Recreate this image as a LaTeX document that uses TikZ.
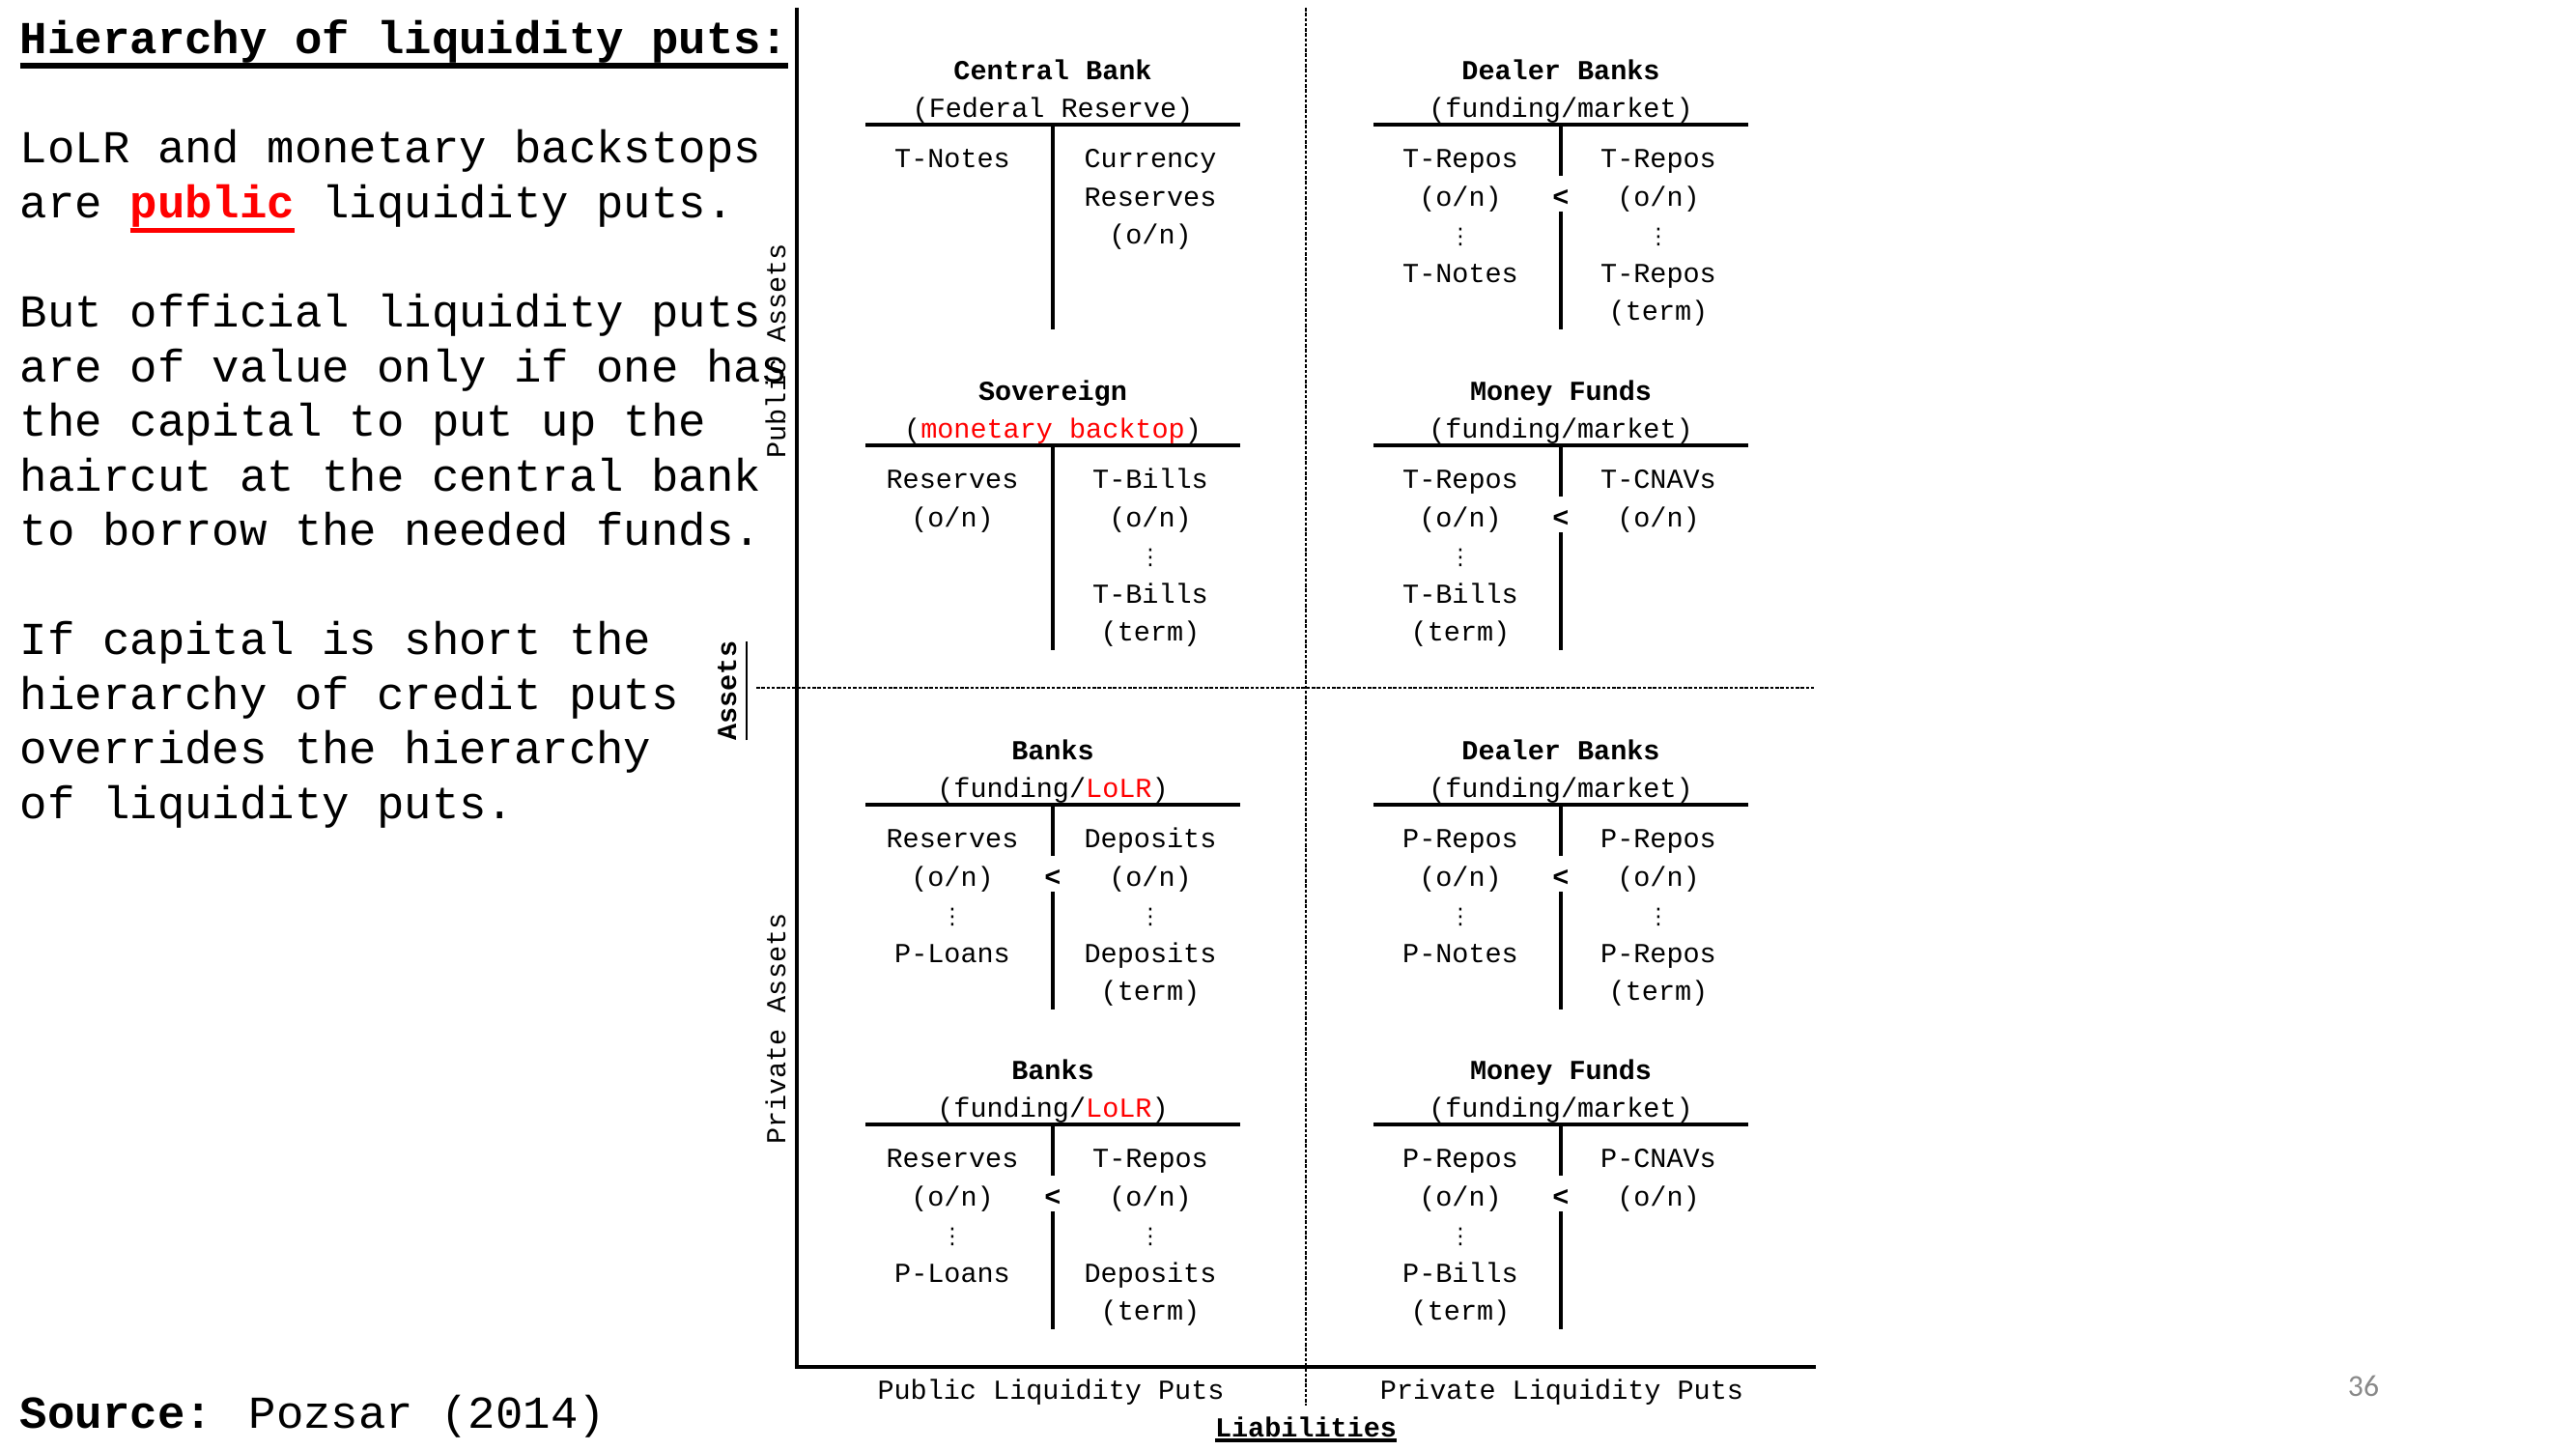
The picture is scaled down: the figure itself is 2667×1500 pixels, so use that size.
\documentclass[tikz,border=0pt]{standalone}
\usepackage{fontspec}
\usepackage{xcolor}
\usepackage{tikz}
\setmainfont{Liberation Mono}
\newfontfamily\symfont{DejaVu Sans}
\newfontfamily\slidefont{Carlito}
\definecolor{pagegray}{RGB}{137,137,137}
\newcommand{\vdts}{{\symfont\fontsize{6.5pt}{11.24pt}\selectfont ⋮}}
\newcommand{\thickul}[3]{\setbox0=\hbox{#3}\rlap{\rule[\dimexpr-#2-#1/2\relax]{\wd0}{#1}}\box0}

\begin{document}
\begin{tikzpicture}[x=0.01cm,y=0.01cm,yscale=-1,xscale=1,
  txt/.style={inner sep=0pt,outer sep=0pt,yshift=-0.9pt,font=\fontsize{8.1pt}{11.24pt}\selectfont},
  head/.style={txt,anchor=base,font=\fontsize{8.1pt}{11.24pt}\selectfont\bfseries},
  sub/.style={txt,anchor=base},
  col/.style={txt,anchor=north,align=center},
  para/.style={inner sep=0pt,outer sep=0pt,yshift=-1.1pt,align=left,font=\fontsize{13.46pt}{16.07pt}\selectfont},
  tline/.style={line width=1.1pt},
  stem/.style={line width=1pt},
  gridline/.style={line width=0.5pt,dash pattern=on 1pt off 0.5pt}]
\useasboundingbox (0,0) rectangle (2667,1500);

%Axes
\draw [line width=1.1pt] (825,8) -- (825,1415) -- (1880,1415) ;
\draw [gridline] (1352,8) -- (1352,1455) ;
\draw [gridline] (783,712) -- (1878,712) ;

% Text Node
\draw (21,12.5) node [para,anchor=north west] (intro) {\strut\thickul{1.7pt}{3.4pt}{\textbf{Hierarchy of liquidity puts:}}\\[16.07pt]
LoLR and monetary backstops\\
are \textcolor{red}{\thickul{1.4pt}{3.7pt}{\textbf{public}}} liquidity puts.\\[16.07pt]
But official liquidity puts\\
are of value only if one has\\
the capital to put up the\\
haircut at the central bank\\
to borrow the needed funds.\\[16.07pt]
If capital is short the\\
hierarchy of credit puts\\
overrides the hierarchy\\
of liquidity puts.};
% Text Node
\draw (21,1475) node [para,anchor=base west] (source) {\textbf{Source:} Pozsar (2014)};

% Text Node
\draw (813,360) node [txt,anchor=base,rotate=90] (pubassets) {Public Assets};
\draw (813,1062) node [txt,anchor=base,rotate=90] (privassets) {Private Assets};
\draw (762,712) node [head,rotate=90] (assets) {\thickul{0.5pt}{3.1pt}{Assets}};
\draw (1088,1445) node [sub] (pubputs) {Public Liquidity Puts};
\draw (1617,1445) node [sub] (privputs) {Private Liquidity Puts};
\draw (1352,1484) node [head] (liab) {\thickul{1.1pt}{1.2pt}{Liabilities}};

%Central Bank
\draw [tline] (896,129) -- (1284,129) ;
\draw [stem] (1090,129) -- (1090,341) ;
\draw (1090,79) node [head] (cbHead) {Central Bank};
\draw (1090,118) node [sub] (cbSub) {(Federal Reserve)};
\draw (986,143) node [col] (cbL) {\strut T-Notes};
\draw (1191,143) node [col] (cbR) {\strut Currency\\Reserves\\(o/n)};

%Sovereign
\draw [tline] (896,461) -- (1284,461) ;
\draw [stem] (1090,461) -- (1090,673) ;
\draw (1090,411) node [head] (svHead) {Sovereign};
\draw (1090,450) node [sub] (svSub) {(\textcolor{red}{monetary backtop})};
\draw (986,475) node [col] (svL) {\strut Reserves\\(o/n)};
\draw (1191,475) node [col] (svR) {\strut T-Bills\\(o/n)\\\vdts\\T-Bills\\(term)};

%Banks (upper)
\draw [tline] (896,833) -- (1284,833) ;
\draw [stem] (1090,833) -- (1090,886) ;
\draw [stem] (1090,923) -- (1090,1045) ;
\draw (1090,783) node [head] (bkHead) {Banks};
\draw (1090,822) node [sub] (bkSub) {(funding/\textcolor{red}{LoLR})};
\draw (986,847) node [col] (bkL) {\strut Reserves\\(o/n)\\\vdts\\P-Loans};
\draw (1191,847) node [col] (bkR) {\strut Deposits\\(o/n)\\\vdts\\Deposits\\(term)};
\draw (1090,914) node [head] (bkLt) {<};

%Banks (lower)
\draw [tline] (896,1164) -- (1284,1164) ;
\draw [stem] (1090,1164) -- (1090,1217) ;
\draw [stem] (1090,1254) -- (1090,1376) ;
\draw (1090,1114) node [head] (bbHead) {Banks};
\draw (1090,1153) node [sub] (bbSub) {(funding/\textcolor{red}{LoLR})};
\draw (986,1178) node [col] (bbL) {\strut Reserves\\(o/n)\\\vdts\\P-Loans};
\draw (1191,1178) node [col] (bbR) {\strut T-Repos\\(o/n)\\\vdts\\Deposits\\(term)};
\draw (1090,1245) node [head] (bbLt) {<};

%Dealer Banks (upper)
\draw [tline] (1422,129) -- (1810,129) ;
\draw [stem] (1616,129) -- (1616,182) ;
\draw [stem] (1616,219) -- (1616,341) ;
\draw (1616,79) node [head] (dbHead) {Dealer Banks};
\draw (1616,118) node [sub] (dbSub) {(funding/market)};
\draw (1512,143) node [col] (dbL) {\strut T-Repos\\(o/n)\\\vdts\\T-Notes};
\draw (1717,143) node [col] (dbR) {\strut T-Repos\\(o/n)\\\vdts\\T-Repos\\(term)};
\draw (1616,210) node [head] (dbLt) {<};

%Money Funds (upper)
\draw [tline] (1422,461) -- (1810,461) ;
\draw [stem] (1616,461) -- (1616,514) ;
\draw [stem] (1616,551) -- (1616,673) ;
\draw (1616,411) node [head] (mfHead) {Money Funds};
\draw (1616,450) node [sub] (mfSub) {(funding/market)};
\draw (1512,475) node [col] (mfL) {\strut T-Repos\\(o/n)\\\vdts\\T-Bills\\(term)};
\draw (1717,475) node [col] (mfR) {\strut T-CNAVs\\(o/n)};
\draw (1616,542) node [head] (mfLt) {<};

%Dealer Banks (lower)
\draw [tline] (1422,833) -- (1810,833) ;
\draw [stem] (1616,833) -- (1616,886) ;
\draw [stem] (1616,923) -- (1616,1045) ;
\draw (1616,783) node [head] (pdHead) {Dealer Banks};
\draw (1616,822) node [sub] (pdSub) {(funding/market)};
\draw (1512,847) node [col] (pdL) {\strut P-Repos\\(o/n)\\\vdts\\P-Notes};
\draw (1717,847) node [col] (pdR) {\strut P-Repos\\(o/n)\\\vdts\\P-Repos\\(term)};
\draw (1616,914) node [head] (pdLt) {<};

%Money Funds (lower)
\draw [tline] (1422,1164) -- (1810,1164) ;
\draw [stem] (1616,1164) -- (1616,1217) ;
\draw [stem] (1616,1254) -- (1616,1376) ;
\draw (1616,1114) node [head] (pmHead) {Money Funds};
\draw (1616,1153) node [sub] (pmSub) {(funding/market)};
\draw (1512,1178) node [col] (pmL) {\strut P-Repos\\(o/n)\\\vdts\\P-Bills\\(term)};
\draw (1717,1178) node [col] (pmR) {\strut P-CNAVs\\(o/n)};
\draw (1616,1245) node [head] (pmLt) {<};

% Text Node
\draw (2447,1432) node [txt,font=\slidefont\fontsize{9pt}{11pt}\selectfont,text=pagegray] (pgno) {36};
\end{tikzpicture}
\end{document}
